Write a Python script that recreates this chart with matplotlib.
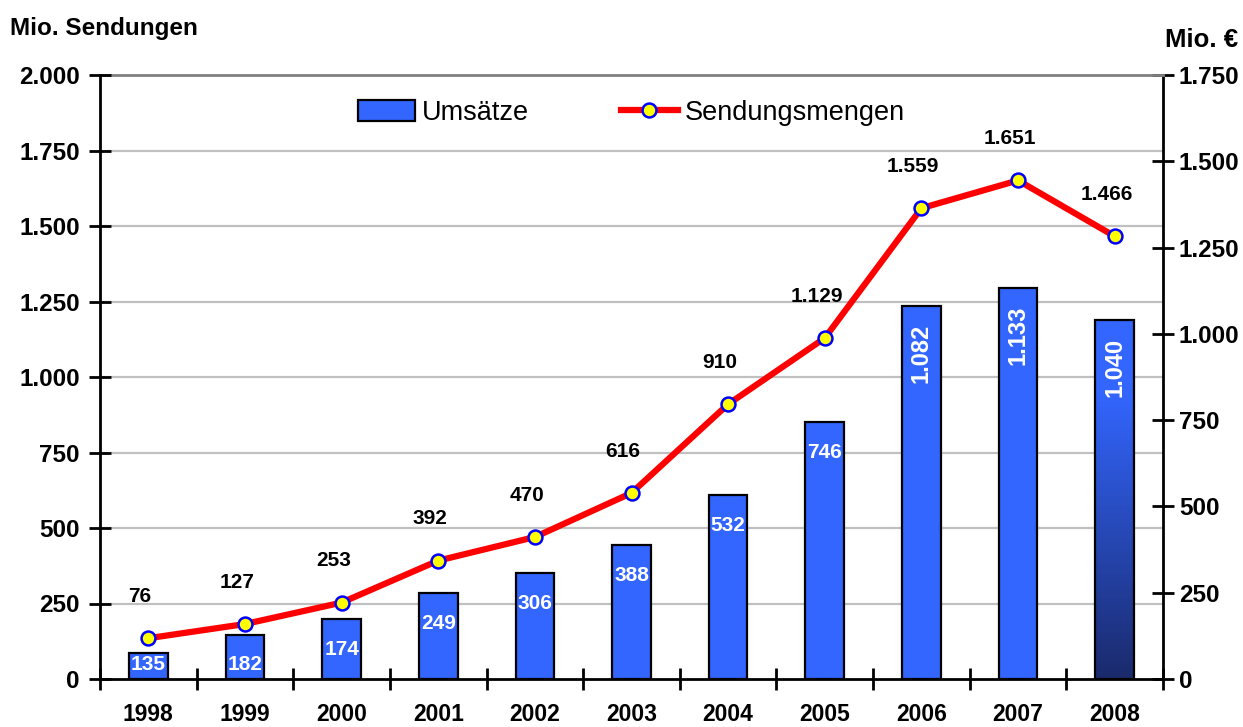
"""Umsätze und Sendungsmengen 1998-2008 — Balken (Mio. €) und Linie (Mio. Sendungen)."""

import matplotlib.pyplot as plt
import numpy as np
from matplotlib import transforms
from matplotlib.colors import to_rgb
from matplotlib.lines import Line2D
from matplotlib.patches import Patch

plt.rcParams["font.family"] = ["Liberation Sans", "DejaVu Sans"]

JAHRE = ["1998", "1999", "2000", "2001", "2002", "2003",
         "2004", "2005", "2006", "2007", "2008"]
# Balkenhöhen (rechte Achse, Mio. €) und Linienwerte (linke Achse, Mio. Sendungen)
UMSATZ = [76, 127, 174, 249, 306, 388, 532, 746, 1082, 1133, 1040]
SENDUNGEN = [135, 182, 253, 392, 470, 616, 910, 1129, 1559, 1651, 1466]
# Beschriftungen so, wie sie im Original stehen
UMSATZ_TEXT = ["135", "182", "174", "249", "306", "388", "532", "746",
               "1.082", "1.133", "1.040"]
SENDUNGEN_TEXT = ["76", "127", "253", "392", "470", "616", "910", "1.129",
                  "1.559", "1.651", "1.466"]
TICKS_LINKS = list(range(0, 2001, 250))
TICKS_RECHTS = list(range(0, 1751, 250))

BLAU = "#3366FF"
NAVY = "#1A2A6C"
W, H = 1243, 727


def de(v):
    return f"{v:,.0f}".replace(",", ".")


def main():
    fig = plt.figure(figsize=(W / 100, H / 100), dpi=100)
    fig.patch.set_facecolor("white")
    ax_r = fig.add_axes([100 / W, 1 - 679 / H, 1063 / W, 604 / H])
    ax_l = ax_r.twinx()
    ax_l.set_zorder(ax_r.get_zorder() + 1)
    ax_l.patch.set_visible(False)
    ax_l.yaxis.tick_left()
    ax_r.yaxis.tick_right()

    x = np.arange(len(JAHRE))
    ax_r.set_xlim(-0.5, len(JAHRE) - 0.5)
    ax_r.set_ylim(0, 1750)
    ax_l.set_ylim(0, 2000)

    # Gitterlinien nach der linken Achse, hinter den Balken
    grid_tr = transforms.blended_transform_factory(ax_r.transAxes, ax_l.transData)
    for v in TICKS_LINKS[1:-1]:
        ax_r.add_line(Line2D([0, 1], [v, v], transform=grid_tr, color="#C0C0C0",
                             lw=1.6, zorder=0))

    bars = ax_r.bar(x, UMSATZ, width=0.4, color=BLAU, edgecolor="black",
                    linewidth=1.6, zorder=2)

    # letzter Balken mit Verlauf nach unten
    last = bars[-1]
    t = np.linspace(0, 1, 256)
    k = np.clip((t - 0.2) / 0.8, 0, 1)[:, None]
    grad = (1 - k) * np.array(to_rgb(BLAU)) + k * np.array(to_rgb(NAVY))
    img = ax_r.imshow(grad[:, None, :], extent=[x[-1] - 0.2, x[-1] + 0.2, 0, UMSATZ[-1]],
                      aspect="auto", origin="upper", zorder=2.05, interpolation="bilinear")
    img.set_clip_path(last)
    last.set_facecolor("none")
    last.set_zorder(2.1)
    ax_r.set_xlim(-0.5, len(JAHRE) - 0.5)
    ax_r.set_ylim(0, 1750)

    for xi, v, txt in zip(x, UMSATZ, UMSATZ_TEXT):
        if v > 1000:
            ax_r.annotate(txt, (xi, v), xytext=(0, -13), textcoords="offset points",
                          ha="center", va="top", rotation=90, color="white",
                          fontsize=17, fontweight="bold", zorder=4)
        else:
            ax_r.annotate(txt, (xi, max(v, 130)), xytext=(0, -22),
                          textcoords="offset points", ha="center", va="center",
                          color="white", fontsize=15, fontweight="bold", zorder=4)

    ax_l.plot(x, SENDUNGEN, color="#FF0000", lw=4.5, marker="o", ms=10,
              mfc="#FFFF00", mec="#0000FF", mew=1.8, zorder=3, clip_on=False)
    for xi, v, txt in zip(x, SENDUNGEN, SENDUNGEN_TEXT):
        ax_l.annotate(txt, (xi, v), xytext=(-6, 30), textcoords="offset points",
                      ha="center", va="center", color="black", fontsize=15,
                      fontweight="bold")

    # Achsen
    ax_l.set_yticks(TICKS_LINKS)
    ax_l.set_yticklabels([de(v) for v in TICKS_LINKS], fontweight="bold")
    ax_r.set_yticks(TICKS_RECHTS)
    ax_r.set_yticklabels([de(v) for v in TICKS_RECHTS], fontweight="bold")
    ax_l.tick_params(axis="y", direction="inout", length=16, width=2,
                     labelsize=17.5, pad=6.5, colors="black")
    ax_r.tick_params(axis="y", direction="inout", length=16, width=2,
                     labelsize=17.5, pad=3.5, colors="black")

    ax_r.set_xticks(x)
    ax_r.set_xticklabels(JAHRE, fontweight="bold")
    ax_r.set_xticks(np.arange(-0.5, len(JAHRE), 1), minor=True)
    ax_r.tick_params(axis="x", which="major", length=0, labelsize=16.5, pad=17)
    ax_r.tick_params(axis="x", which="minor", direction="inout", length=16, width=2)

    for s in ("right", "top", "bottom"):
        ax_l.spines[s].set_visible(False)
    ax_l.spines["left"].set_linewidth(2)
    ax_r.spines["left"].set_visible(False)
    ax_r.spines["right"].set_linewidth(2)
    ax_r.spines["bottom"].set_linewidth(2)
    ax_r.spines["top"].set_color("#808080")
    ax_r.spines["top"].set_linewidth(2)

    handles = [
        Patch(facecolor=BLAU, edgecolor="black", linewidth=1.6),
        Line2D([], [], color="#FF0000", lw=4.5, marker="o", ms=10,
               mfc="#FFFF00", mec="#0000FF", mew=1.8),
    ]
    ax_l.legend(handles, ["Umsätze", "Sendungsmengen"], loc="center",
                bbox_to_anchor=(0.5, (679 - 113) / 604), ncol=2, frameon=False,
                fontsize=19.5, handlelength=2.1, handleheight=0.8,
                handletextpad=0.25, columnspacing=3.4)

    fig.text(10 / W, 1 - 28 / H, "Mio. Sendungen", ha="left", va="center",
             fontsize=17.5, fontweight="bold")
    fig.text(1238 / W, 1 - 40 / H, "Mio. €", ha="right", va="center",
             fontsize=18.5, fontweight="bold")

    fig.savefig("out.png", dpi=100, facecolor=fig.get_facecolor())


if __name__ == "__main__":
    main()
